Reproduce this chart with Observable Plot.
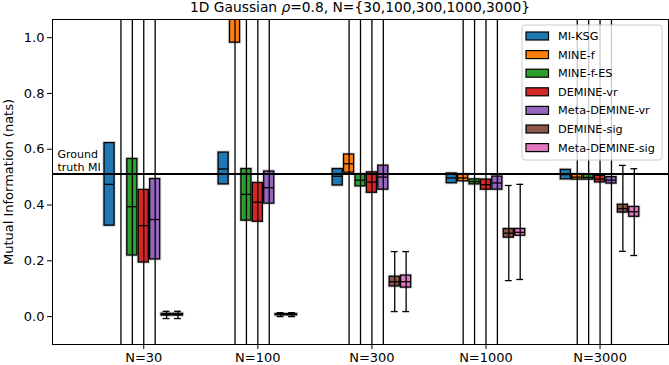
<!DOCTYPE html>
<html><head><meta charset="utf-8">
<script src="https://cdn.jsdelivr.net/npm/d3@7"></script>
<script src="https://cdn.jsdelivr.net/npm/@observablehq/plot@0.6"></script>
<style>body{margin:0;background:#fff} #chart{width:669px;height:365px}</style>
</head><body><div id="chart"></div>
<script>
const methods = ["MI-KSG","MINE-f","MINE-f-ES","DEMINE-vr","Meta-DEMINE-vr","DEMINE-sig","Meta-DEMINE-sig"];
const colors = ["#1f77b4","#ff7f0e","#2ca02c","#d62728","#9467bd","#8c564b","#e377c2"];
const sampleSizes = ["N=30","N=100","N=300","N=1000","N=3000"];
const yTicks = [0, 0.2, 0.4, 0.6, 0.8, 1.0];
const groundTruth = 0.511;

// rows: methods, columns: sample sizes
const q1 = [
  [0.326, 0.474, 0.470, 0.478, 0.492],
  [1.30, 0.982, 0.516, 0.485, 0.491],
  [0.219, 0.344, 0.467, 0.474, 0.491],
  [0.194, 0.340, 0.444, 0.455, 0.481],
  [0.205, 0.405, 0.455, 0.455, 0.477],
  [0.004, 0.005, 0.108, 0.283, 0.373],
  [0.004, 0.005, 0.104, 0.290, 0.358]
];
const median = [
  [0.474, 0.529, 0.503, 0.497, 0.509],
  [1.60, 1.20, 0.548, 0.497, 0.500],
  [0.394, 0.438, 0.489, 0.484, 0.499],
  [0.326, 0.410, 0.482, 0.473, 0.493],
  [0.348, 0.462, 0.500, 0.479, 0.489],
  [0.007, 0.007, 0.125, 0.299, 0.387],
  [0.007, 0.007, 0.125, 0.302, 0.376]
];
const q3 = [
  [0.622, 0.588, 0.529, 0.513, 0.526],
  [1.90, 1.40, 0.581, 0.510, 0.510],
  [0.565, 0.529, 0.510, 0.492, 0.508],
  [0.454, 0.479, 0.517, 0.491, 0.505],
  [0.493, 0.520, 0.541, 0.502, 0.500],
  [0.010, 0.009, 0.143, 0.314, 0.401],
  [0.010, 0.009, 0.147, 0.314, 0.393]
];
const whiskerLow = [
  null,
  [-0.3, -0.3, -0.3, -0.3, -0.3],
  [-0.3, -0.3, -0.3, -0.3, -0.3],
  [-0.3, -0.3, -0.3, -0.3, -0.3],
  [-0.3, -0.3, -0.3, -0.3, -0.3],
  [-0.007, 0.000, 0.018, 0.129, 0.234],
  [-0.007, 0.000, 0.018, 0.133, 0.219]
];
const whiskerHigh = [
  null,
  [2.5, 2.5, 2.5, 2.5, 2.5],
  [2.5, 2.5, 2.5, 2.5, 2.5],
  [2.5, 2.5, 2.5, 2.5, 2.5],
  [2.5, 2.5, 2.5, 2.5, 2.5],
  [0.019, 0.014, 0.233, 0.470, 0.542],
  [0.019, 0.014, 0.233, 0.474, 0.530]
];

const rows = [];
methods.forEach((m, i) => sampleSizes.forEach((n, j) => {
  rows.push({
    method: m, color: colors[i], pos: j + (i - 3) * 0.1,
    q1: q1[i][j], med: median[i][j], q3: q3[i][j],
    lo: whiskerLow[i] ? whiskerLow[i][j] : null,
    hi: whiskerHigh[i] ? whiskerHigh[i][j] : null
  });
}));
const whiskerRows = rows.filter(d => d.lo != null);
const halfBox = 0.044, halfCap = 0.03;

const plot = Plot.plot({
  width: 669, height: 365,
  marginLeft: 52, marginRight: 1, marginTop: 19, marginBottom: 21,
  style: {fontFamily: "DejaVu Sans, sans-serif", fontSize: "13px", background: "white", color: "black"},
  x: {type: "linear", domain: [-0.8, 4.6]},
  y: {domain: [-0.1, 1.065]},
  marks: [
    Plot.axisX({ticks: sampleSizes.map((_, j) => j), tickFormat: j => sampleSizes[j], tickSize: 5, tickPadding: 3, label: null}),
    Plot.axisY({ticks: yTicks, tickFormat: d3.format(".1f"), tickSize: 5, tickPadding: 3,
      label: "Mutual Information (nats)", labelAnchor: "center", labelArrow: "none"}),
    Plot.rect(rows, {x1: d => d.pos - halfBox, x2: d => d.pos + halfBox, y1: "q1", y2: "q3",
      fill: "none", stroke: "#bbbbbb", strokeWidth: 3.2, strokeOpacity: 0.6, clip: true}),
    Plot.rect(rows, {x1: d => d.pos - halfBox, x2: d => d.pos + halfBox, y1: "q1", y2: "q3",
      fill: "color", stroke: "black", strokeWidth: 1.3, clip: true}),
    Plot.ruleY(rows, {y: "med", x1: d => d.pos - halfBox, x2: d => d.pos + halfBox, stroke: "black", strokeWidth: 1.3, clip: true}),
    Plot.ruleX(whiskerRows, {x: "pos", y1: "lo", y2: "hi", stroke: "black", strokeWidth: 1.3, clip: true}),
    Plot.ruleY(whiskerRows, {y: "lo", x1: d => d.pos - halfCap, x2: d => d.pos + halfCap, stroke: "black", strokeWidth: 1.3, clip: true}),
    Plot.ruleY(whiskerRows, {y: "hi", x1: d => d.pos - halfCap, x2: d => d.pos + halfCap, stroke: "black", strokeWidth: 1.3, clip: true}),
    Plot.ruleY([groundTruth], {stroke: "black", strokeWidth: 2}),
    Plot.text([groundTruth], {y: d => d, text: () => "Ground\ntruth MI", frameAnchor: "left", textAnchor: "start",
      lineAnchor: "bottom", dx: 5, dy: -3, fontSize: 11, lineHeight: 1.18}),
    Plot.frame({stroke: "black"})
  ]
});
document.getElementById("chart").appendChild(plot);

const svg = d3.select(plot);
// title
const title = svg.append("text").attr("x", 360).attr("y", 12).attr("text-anchor", "middle")
  .attr("font-size", "13.8px").attr("fill", "black");
title.append("tspan").text("1D Gaussian ");
title.append("tspan").attr("font-style", "italic").text("ρ");
title.append("tspan").text("=0.8, N={30,100,300,1000,3000}");

// legend
const lg = svg.append("g").attr("text-anchor", "start");
lg.append("rect").attr("x", 522).attr("y", 25).attr("width", 140).attr("height", 135).attr("rx", 3)
  .attr("fill", "white").attr("fill-opacity", 0.8).attr("stroke", "#cccccc").attr("stroke-width", 1);
methods.forEach((m, i) => {
  const cy = 36 + i * 18.6;
  lg.append("rect").attr("x", 526).attr("y", cy - 4).attr("width", 22.5).attr("height", 8)
    .attr("fill", colors[i]).attr("stroke", "black").attr("stroke-width", 1.2);
  lg.append("text").attr("x", 558).attr("y", cy).attr("dy", "0.36em").attr("font-size", "11.3px")
    .attr("text-anchor", "start").attr("fill", "black").text(m);
});
</script>
</body></html>
